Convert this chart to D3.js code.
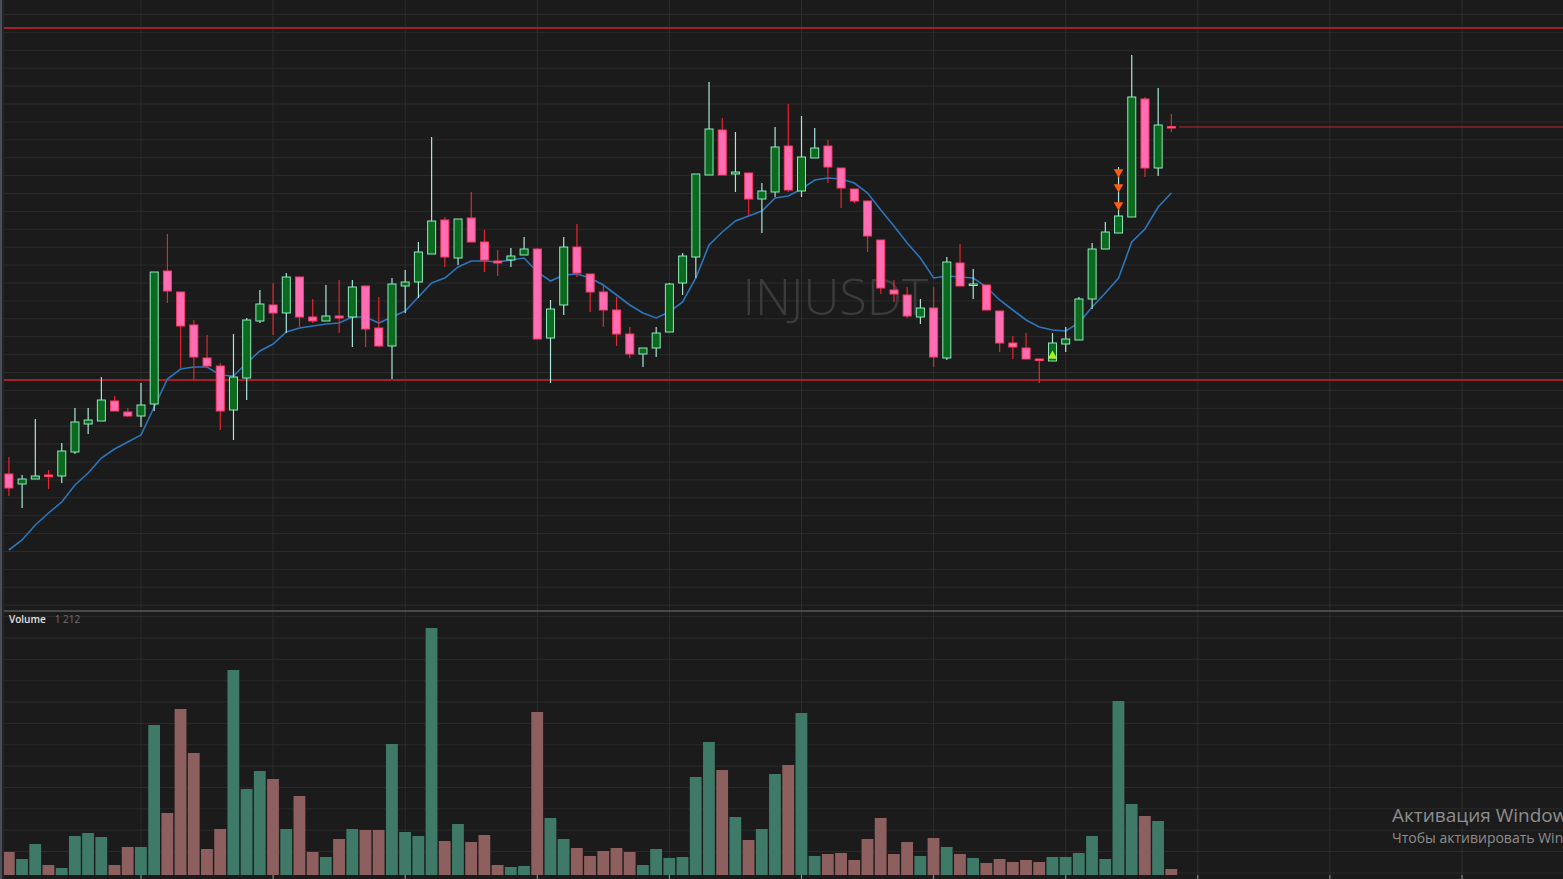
<!DOCTYPE html>
<html>
<head>
<meta charset="utf-8">
<script src="https://cdn.jsdelivr.net/npm/d3@7/dist/d3.min.js"></script>
<style>
html,body{margin:0;padding:0;background:#1b1b1b;overflow:hidden;}
svg{display:block;}
</style>
</head>
<body>
<svg id="chart" width="1563" height="879"></svg>
<script>
// ---- data ----
const symbol = "INJUSDT";
const opens  = [14.6,13.6,14.1,14.5,14.4,16.8,19.6,19.9,21.9,20.8,20.4,21.6,34.9,32.8,29.5,26.2,25.4,21.0,24.2,29.9,31.5,30.7,34.3,30.3,29.9,30.4,30.3,33.4,29.2,27.4,33.4,33.8,36.6,40.0,36.2,40.2,37.8,35.9,36.0,36.5,37.1,28.2,31.5,37.3,34.6,32.8,31.0,28.6,26.6,27.2,28.8,33.7,36.3,44.5,49.0,44.6,44.7,42.1,42.8,47.4,42.9,46.2,47.4,45.2,43.1,41.9,38.0,33.0,32.5,30.3,31.2,26.2,35.7,33.5,33.5,30.9,27.7,27.2,26.1,25.9,27.6,28.0,32.1,37.1,38.7,40.3,52.1,45.2,49.35];
const highs  = [16.3,14.5,20.1,15.0,17.7,21.2,21.2,24.3,22.4,21.2,23.7,34.8,38.6,32.8,30.0,28.5,25.7,28.6,30.2,33.0,33.7,34.7,34.3,32.1,33.5,34.0,34.0,33.4,32.3,34.2,35.0,37.8,48.3,40.3,40.1,42.8,39.0,37.0,37.2,38.3,37.2,32.0,38.3,39.6,34.6,33.5,32.3,29.3,27.2,29.3,33.7,36.7,44.6,53.8,50.2,48.8,44.7,43.7,49.3,51.6,50.4,49.2,48.0,45.2,43.1,41.9,38.0,34.0,33.3,32.1,33.3,36.3,37.6,35.1,33.5,30.9,28.4,28.7,26.1,28.7,29.3,32.3,37.7,39.8,45.3,56.5,52.3,53.2,50.6];
const lows   = [12.4,11.2,14.1,13.1,13.7,16.6,18.6,19.9,20.9,20.3,19.3,20.9,31.7,25.2,24.0,25.3,19.0,18.0,22.0,29.7,28.5,28.7,29.3,29.7,29.9,28.7,27.3,27.3,27.3,24.1,30.7,32.2,36.6,35.3,35.5,37.8,34.8,34.4,35.3,36.5,28.1,23.7,30.5,34.3,30.8,29.3,27.4,26.2,25.3,26.3,28.8,32.5,34.2,44.5,44.5,42.8,40.4,38.7,42.3,42.8,42.3,46.2,43.7,41.2,41.7,36.8,32.6,31.8,30.2,29.6,25.3,26.0,33.4,32.1,31.0,26.8,26.1,26.1,23.7,25.9,26.8,28.0,31.1,37.1,38.7,40.3,44.3,44.4,48.8];
const closes = [13.2,14.1,14.4,14.4,16.9,19.8,20.0,22.0,20.9,20.4,21.5,34.8,32.9,29.4,26.3,25.4,20.9,24.3,30.0,31.6,30.7,34.3,30.3,29.9,30.4,30.2,33.3,29.1,27.4,33.6,33.8,36.8,39.9,36.3,40.1,37.8,36.0,35.7,36.4,37.1,28.1,31.1,37.3,34.7,32.8,31.0,28.6,26.6,27.2,28.7,33.6,36.4,44.6,49.1,44.5,44.8,42.1,42.9,47.3,43.0,46.3,47.2,45.3,43.2,41.9,38.4,33.2,32.6,30.4,31.2,26.3,35.8,33.4,33.6,31.0,27.7,27.3,26.1,26.0,27.7,28.1,32.1,37.1,38.8,40.4,52.3,45.2,49.5,49.3];
const maValues = [7.0,8.0,9.5,10.7,11.8,13.5,14.7,16.2,17.1,17.8,18.5,21.3,24.1,25.1,25.3,25.3,24.5,24.4,25.7,26.9,27.6,28.8,29.2,29.4,29.6,29.7,30.3,30.3,29.7,30.3,30.9,32.3,33.7,34.2,35.3,35.9,35.9,35.8,36.0,36.2,34.8,33.9,34.5,34.6,34.2,33.5,32.5,31.5,30.7,30.2,30.8,31.8,34.2,37.5,38.8,39.9,40.4,40.9,42.2,42.4,43.1,44.0,44.2,44.1,43.7,42.7,41.0,39.4,37.7,36.2,34.2,34.4,34.3,34.2,33.3,32.0,31.0,30.0,29.3,29.0,28.9,29.7,31.3,32.7,34.2,37.8,39.1,41.3,42.7];
const volumes = [230,160,310,100,70,390,420,380,100,280,280,1500,620,1660,1220,260,460,2050,860,1040,960,460,790,230,180,360,460,450,450,1310,430,390,2470,340,510,330,400,100,80,90,1630,570,360,270,190,240,270,230,100,260,170,180,980,1330,1050,580,350,460,1010,1100,1620,190,210,220,150,360,570,210,330,190,370,280,210,170,120,160,130,150,130,180,180,220,390,160,1740,710,590,540,60];
const levelLines = [59.2, 24.0];
const lastPriceLine = 49.3;
const sellSignals = [{i:84, p:44.8},{i:84, p:43.3},{i:84, p:41.5}];
const buySignals = [{i:79, p:26.4}];
const volumeLabel = "Volume";
const volumeValueLabel = "1 212";
const winTitle = "Активация Windows";
const winSub = "Чтобы активировать Windows, перейдите в раздел \"Параметры\".";

// ---- layout ----
const W = 1563, H = 879;
const paneTop = 0, paneBottom = 611, volTop = 612, volBottom = 875;
const nSlots = 118;
const candles = opens.map((o,i)=>({i, o, h:highs[i], l:lows[i], c:closes[i], v:volumes[i], ma:maValues[i], bull: closes[i] >= opens[i]}));

const svg = d3.select("#chart");
svg.append("rect").attr("width",W).attr("height",H).attr("fill","#1b1b1b");

const x = d3.scaleBand().domain(d3.range(nSlots)).range([2.3, 2.3 + 13.21*nSlots]);
const bw = x.bandwidth();
const cx = i => x(i) + bw/2;
const y = d3.scaleLinear().domain([0, 62]).range([620, 0]);
const yv = d3.scaleLinear().domain([0, 2600]).range([volBottom, volBottom - 260]);

const defs = svg.append("defs");
defs.append("clipPath").attr("id","pricePane").append("rect").attr("x",4).attr("y",paneTop).attr("width",W).attr("height",paneBottom-paneTop);
defs.append("clipPath").attr("id","volPane").append("rect").attr("x",4).attr("y",volTop).attr("width",W).attr("height",H-volTop);

// horizontal grid - price pane
const priceGrid = d3.range(60.55, 0, -1.79);
svg.append("g").attr("clip-path","url(#pricePane)").selectAll("line").data(priceGrid).join("line")
  .attr("x1",4).attr("x2",W).attr("y1",d=>y(d)).attr("y2",d=>y(d))
  .attr("stroke","#2a2a2a").attr("stroke-width",1);
// horizontal grid - volume pane
const volGrid = d3.range(2583, 0, -213.5);
svg.append("g").attr("clip-path","url(#volPane)").selectAll("line").data(volGrid).join("line")
  .attr("x1",4).attr("x2",W).attr("y1",d=>yv(d)).attr("y2",d=>yv(d))
  .attr("stroke","#2a2a2a").attr("stroke-width",1);
// vertical grid
const vGrid = d3.range(10, nSlots, 10);
svg.append("g").selectAll("line").data(vGrid).join("line")
  .attr("x1",d=>cx(d)).attr("x2",d=>cx(d)).attr("y1",0).attr("y2",H)
  .attr("stroke","#2d2d2d").attr("stroke-width",1);
// bottom ticks
svg.append("g").selectAll("line").data(vGrid).join("line")
  .attr("x1",d=>cx(d)).attr("x2",d=>cx(d)).attr("y1",volBottom).attr("y2",H)
  .attr("stroke","#9a9a9a").attr("stroke-width",1);

// pane separator
svg.append("line").attr("x1",0).attr("x2",W).attr("y1",paneBottom).attr("y2",paneBottom)
  .attr("stroke","#5a5a5a").attr("stroke-width",1.5);

// watermark
svg.append("text").attr("x", cx(55) + 7).attr("y", 315).text(symbol)
  .attr("font-family","'Open Sans', 'Noto Sans', sans-serif").attr("font-weight",300)
  .attr("font-size",50).attr("fill","#3b3b3b");

// level lines
const pricePane = svg.append("g").attr("clip-path","url(#pricePane)");
pricePane.selectAll("line.level").data(levelLines).join("line").attr("class","level")
  .attr("x1",4).attr("x2",W).attr("y1",d=>y(d)).attr("y2",d=>y(d))
  .attr("stroke","#a51f29").attr("stroke-width",2);
pricePane.append("line").attr("x1",x(candles.length)+1).attr("x2",W)
  .attr("y1",y(lastPriceLine)).attr("y2",y(lastPriceLine))
  .attr("stroke","#c4242c").attr("stroke-width",1.2);

// MA line
pricePane.append("path").datum(candles)
  .attr("d", d3.line().x(d=>cx(d.i)).y(d=>y(d.ma)))
  .attr("fill","none").attr("stroke","#2b76bd").attr("stroke-width",1.6);

// candles
const bullFill="#0b6a1d", bullStroke="#8fe9bd", bullWick="#a6e8da";
const bearFill="#ff6eb4", bearStroke="#ff3b63", bearWick="#e5262f";
const bodyW = 8;
const cg = pricePane.append("g");
cg.selectAll("line.wick").data(candles).join("line").attr("class","wick")
  .attr("x1",d=>cx(d.i)).attr("x2",d=>cx(d.i))
  .attr("y1",d=>y(d.h)).attr("y2",d=>y(d.l))
  .attr("stroke",d=>d.bull?bullWick:bearWick).attr("stroke-width",1.2);
cg.selectAll("rect.body").data(candles).join("rect").attr("class","body")
  .attr("x",d=>cx(d.i)-bodyW/2).attr("width",bodyW)
  .attr("y",d=>y(Math.max(d.o,d.c)))
  .attr("height",d=>Math.max(1.5, Math.abs(y(d.o)-y(d.c))))
  .attr("fill",d=>d.bull?bullFill:bearFill)
  .attr("stroke",d=>d.bull?bullStroke:bearStroke).attr("stroke-width",1);

// signals
const tri = d3.symbol().type(d3.symbolTriangle).size(40);
pricePane.selectAll("path.sell").data(sellSignals).join("path").attr("class","sell")
  .attr("d",tri).attr("transform",d=>`translate(${cx(d.i)},${y(d.p)}) rotate(180)`)
  .attr("fill","#ff5b12");
pricePane.selectAll("path.buy").data(buySignals).join("path").attr("class","buy")
  .attr("d",tri).attr("transform",d=>`translate(${cx(d.i)},${y(d.p)})`)
  .attr("fill","#a6f01e");

// volume bars
const vg = svg.append("g").attr("clip-path","url(#volPane)");
vg.selectAll("rect").data(candles).join("rect")
  .attr("x",d=>x(d.i)+0.6).attr("width",bw-1.4)
  .attr("y",d=>yv(d.v)).attr("height",d=>yv(0)-yv(d.v))
  .attr("fill",d=>d.bull?"#3e7a67":"#8e5f5f");

// volume label
const vl = svg.append("text").attr("x",9).attr("y",622.5)
  .attr("font-family","'Open Sans','Noto Sans',sans-serif").attr("font-size",10);
vl.append("tspan").text(volumeLabel).attr("fill","#e2e2e2").attr("font-weight",600);
vl.append("tspan").text(volumeValueLabel).attr("fill","#6f6f6f").attr("dx",9);

// left border
svg.append("rect").attr("x",0).attr("y",0).attr("width",2).attr("height",H).attr("fill","#4b4e55");
svg.append("rect").attr("x",2).attr("y",0).attr("width",2).attr("height",H).attr("fill","#232429");

// windows activation text (runs off the right edge, as in the original screenshot)
svg.append("text").attr("x",1392).attr("y",822).text(winTitle)
  .attr("font-family","'Open Sans','Noto Sans',sans-serif").attr("font-size",19).attr("fill","#8e8e8e");
svg.append("text").attr("x",1392).attr("y",843).text(winSub)
  .attr("font-family","'Open Sans','Noto Sans',sans-serif").attr("font-size",14).attr("fill","#8e8e8e");
</script>
</body>
</html>
